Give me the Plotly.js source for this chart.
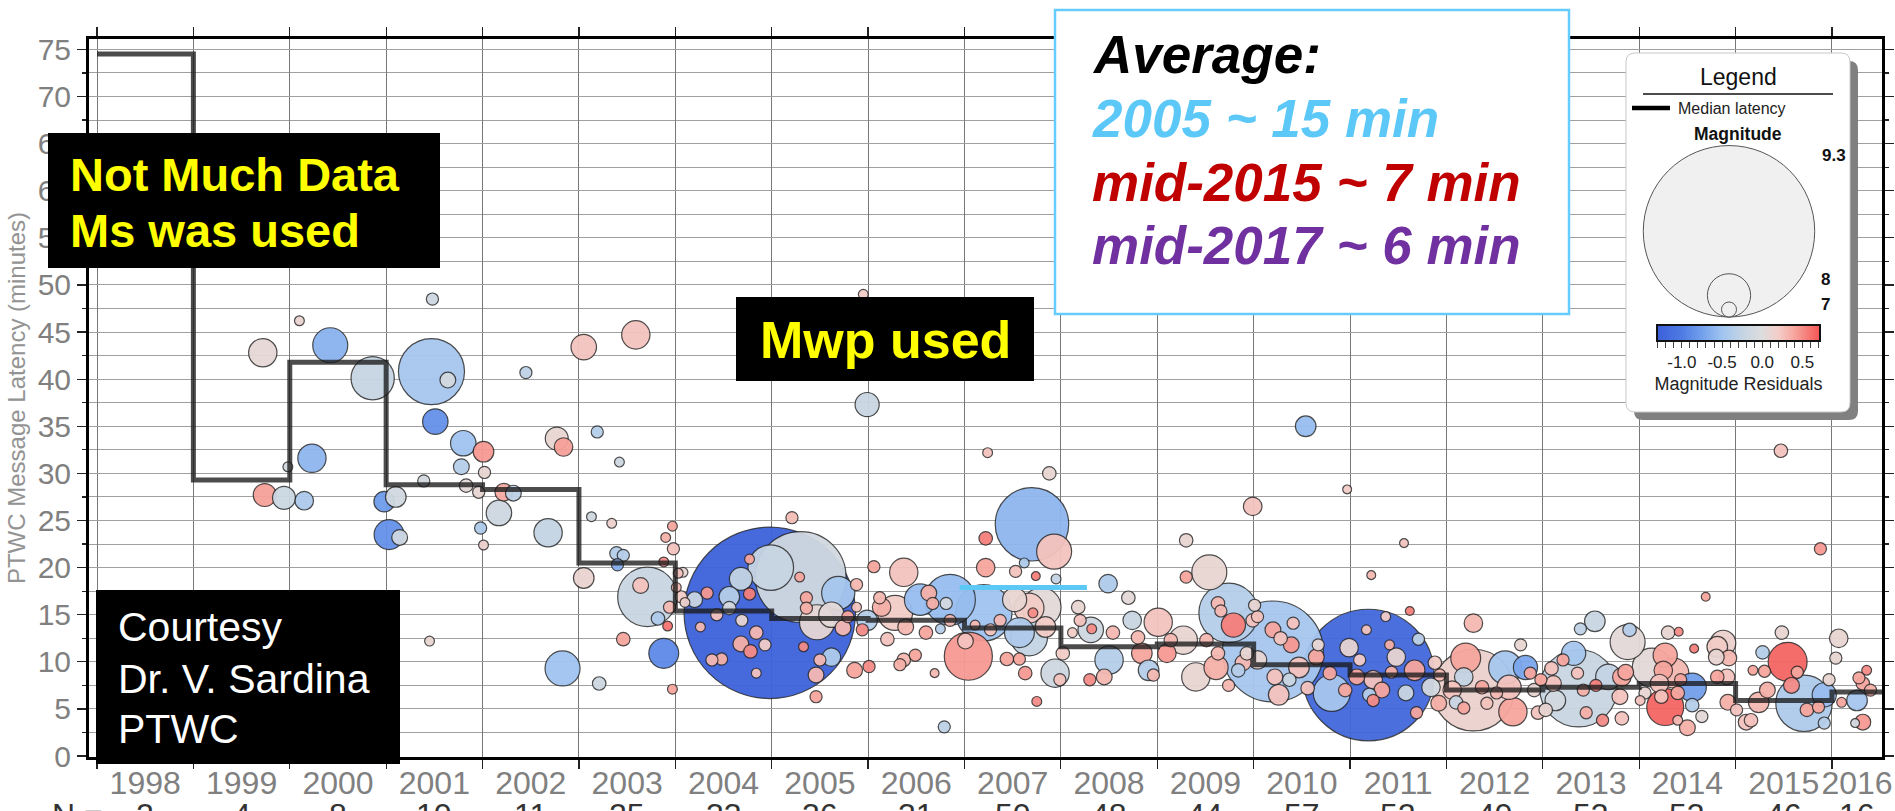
<!DOCTYPE html>
<html><head><meta charset="utf-8">
<script src="https://cdn.plot.ly/plotly-3.0.1.min.js"></script>
<style>html,body{margin:0;padding:0;background:#fff;overflow:hidden}#chart{width:1895px;height:811px}</style>
</head><body><div id="chart"></div>
<script>
// ================= DATA =================
const medianYears   = [1998,1999,2000,2001,2002,2003,2004,2005,2006,2007,2008,2009,2010,2011,2012,2013,2014,2015,2016];
const medianLatency = [74.5,29.3,41.8,28.8,28.3,20.5,15.4,14.6,14.4,13.6,11.6,11.9,9.7,8.6,7.0,7.3,7.7,5.9,6.8];
const dataEnd = 2016.52;
const yearLabels   = ['1998','1999','2000','2001','2002','2003','2004','2005','2006','2007','2008','2009','2010','2011','2012','2013','2014','2015','2016'];
const yearLabelPos = [1998.5,1999.5,2000.5,2001.5,2002.5,2003.5,2004.5,2005.5,2006.5,2007.5,2008.5,2009.5,2010.5,2011.5,2012.5,2013.5,2014.5,2015.5,2016.26];
const yearCounts   = ['2','4','8','10','11','25','33','36','31','50','48','44','57','52','49','53','53','46','16'];
const avgMarkX = [2006.95, 2008.27];
const avgMarkY = [17.9, 17.9];
const residTickVals = [-1.3,-1.2,-1.1,-1.0,-0.9,-0.8,-0.7,-0.6,-0.5,-0.4,-0.3,-0.2,-0.1,0.0,0.1,0.2,0.3,0.4,0.5,0.6,0.7];
const residTickText = ['','','','-1.0','','','','','-0.5','','','','','0.0','','','','','0.5','',''];
const legendMags = [9.3, 8, 7];

// events: [decimal year, latency (min), magnitude, magnitude residual]
const ev1998 = [[1998.30,86.0,7.0,0.00],[1998.62,63.0,7.1,-0.20]];
const ev1999 = [[1999.72,42.8,7.6,0.08],[1999.74,27.7,7.4,0.42],[1999.94,27.4,7.4,-0.18],[1999.98,30.7,6.6,-0.12]];
const ev2000 = [[2000.10,46.2,6.6,0.12],[2000.42,43.6,7.8,-0.62],[2000.86,40.1,8.0,-0.22],[2000.15,27.1,7.2,-0.42],[2000.23,31.6,7.6,-0.60],[2000.98,27.0,7.3,-0.78],[2000.55,56.0,7.0,-0.10],[2000.70,61.0,7.1,0.10]];
const ev2001 = [[2001.10,27.5,7.3,-0.12],[2001.03,23.5,7.65,-0.85],[2001.14,23.2,7.05,-0.15],[2001.39,29.2,6.8,-0.10],[2001.45,12.2,6.6,0.10],[2001.51,35.5,7.5,-0.85],[2001.47,40.8,8.4,-0.45],[2001.64,39.9,7.05,-0.10],[2001.48,48.5,6.8,-0.15],[2001.80,33.2,7.5,-0.50],[2001.78,30.7,7.05,-0.35],[2001.83,28.7,6.9,0.05],[2001.96,28.0,6.8,0.10],[2001.98,24.2,6.8,-0.40]];
const ev2002 = [[2002.02,30.1,6.8,0.10],[2002.01,32.3,7.3,0.45],[2002.01,22.4,6.6,0.15],[2002.22,28.0,7.15,0.38],[2002.32,27.9,7.05,-0.30],[2002.17,25.8,7.5,-0.15],[2002.68,23.7,7.6,-0.25],[2002.77,33.7,7.4,0.10],[2002.84,32.8,7.2,0.42],[2002.83,9.3,7.8,-0.50],[2002.45,40.7,6.8,-0.30]];
const ev2003 = [[2003.05,43.4,7.5,0.25],[2003.59,44.7,7.6,0.25],[2003.19,34.4,6.8,-0.35],[2003.42,31.2,6.6,-0.15],[2003.13,25.4,6.6,-0.15],[2003.34,24.7,6.6,0.15],[2003.39,21.5,6.9,-0.35],[2003.46,21.3,6.8,-0.35],[2003.40,20.3,6.8,-0.65],[2003.05,18.9,7.3,0.12],[2003.21,7.7,6.9,-0.15],[2003.71,16.9,8.3,-0.20],[2003.64,18.1,7.05,0.25],[2003.46,12.4,6.9,0.40],[2003.88,10.9,7.65,-0.90],[2003.82,14.6,6.9,-0.40],[2003.92,13.8,6.6,0.60],[2003.97,24.4,6.6,0.40],[2003.90,23.2,6.6,0.35],[2003.98,22.0,6.8,0.25],[2003.88,20.6,6.6,0.50],[2003.97,7.1,6.6,0.40],[2003.94,15.8,6.8,0.30]];
const ev2004 = [[2004.98,15.2,9.3,-1.28],[2004.99,20.0,8.05,-0.22],[2004.68,18.8,7.4,-0.25],[2004.56,16.9,7.3,-0.35],[2004.77,20.9,6.6,0.40],[2004.33,17.3,6.8,0.45],[2004.77,17.2,6.8,0.55],[2004.43,15.0,6.8,0.25],[2004.56,15.7,6.9,-0.10],[2004.69,14.4,6.8,0.10],[2004.68,11.9,7.05,0.35],[2004.78,11.1,6.9,0.50],[2004.84,13.1,6.9,0.30],[2004.93,11.8,6.8,0.20],[2004.48,10.3,6.8,0.35],[2004.84,8.8,6.6,0.25],[2004.08,19.5,6.6,0.10],[2004.01,17.9,6.6,0.30],[2004.06,16.9,6.8,0.20],[2004.10,16.3,6.6,0.15],[2004.20,16.6,7.05,-0.20],[2004.03,19.4,6.6,0.25],[2004.26,13.7,6.6,0.30],[2004.38,10.2,6.8,0.30]];
const ev2005 = [[2005.30,19.0,8.7,-0.12],[2005.69,17.3,7.75,-0.45],[2005.36,16.8,6.8,0.40],[2005.36,15.7,6.8,0.35],[2005.29,19.0,6.6,0.40],[2005.21,25.3,6.8,0.28],[2005.33,11.6,6.6,0.50],[2005.47,14.2,7.8,0.08],[2005.62,15.0,7.5,0.05],[2005.74,13.6,7.05,0.30],[2005.79,14.8,6.8,0.40],[2005.62,10.5,7.2,-0.40],[2005.50,10.2,6.8,0.30],[2005.46,8.6,7.05,0.30],[2005.46,6.3,6.8,0.40],[2005.88,18.2,6.8,0.30],[2005.88,15.8,6.6,0.25],[2005.86,9.1,7.05,0.40],[2005.94,13.4,6.8,0.50],[2005.95,49.0,6.6,0.20],[2005.99,37.3,7.45,-0.20],[2005.99,14.4,7.3,-0.35]];
const ev2006 = [[2006.01,9.5,6.8,0.50],[2006.06,20.1,6.8,0.40],[2006.37,19.5,7.6,0.25],[2006.14,15.8,7.2,0.35],[2006.28,15.2,7.8,0.20],[2006.20,12.4,6.9,0.25],[2006.39,13.7,7.05,0.30],[2006.54,16.6,7.7,-0.55],[2006.63,17.3,7.05,0.35],[2006.67,16.2,6.8,0.35],[2006.60,13.1,6.9,0.40],[2006.85,16.6,8.15,-0.55],[2006.81,16.2,6.8,-0.10],[2006.75,13.5,6.6,-0.35],[2006.85,14.4,6.8,0.30],[2006.79,3.1,6.8,-0.30],[2006.69,8.8,6.5,0.30],[2006.37,10.2,6.9,0.30],[2006.33,9.7,6.8,0.35],[2006.12,16.8,6.8,0.30],[2006.49,10.7,6.8,0.40]];
const ev2007 = [[2007.04,10.6,8.1,0.45],[2007.24,32.2,6.6,0.25],[2007.70,24.6,8.5,-0.60],[2007.93,21.7,7.8,0.25],[2007.88,30.0,6.9,0.10],[2007.22,23.1,6.9,0.55],[2007.22,20.0,7.2,0.40],[2007.62,20.5,6.6,-0.40],[2007.53,19.6,6.8,0.25],[2007.74,19.1,6.5,0.55],[2007.95,18.8,6.6,-0.25],[2007.20,15.2,8.25,-0.50],[2007.52,16.6,7.45,0.10],[2007.67,15.7,7.65,0.20],[2007.80,15.8,7.9,0.05],[2007.67,12.6,7.85,-0.25],[2007.57,13.1,7.65,-0.40],[2007.84,13.7,7.3,0.20],[2007.71,15.2,6.6,0.50],[2007.44,10.3,6.9,0.40],[2007.57,10.3,6.8,0.40],[2007.63,8.8,6.9,0.45],[2007.75,5.8,6.6,0.50],[2007.94,8.8,7.6,-0.15],[2007.99,8.1,6.8,0.25],[2007.37,14.4,6.8,0.30],[2007.27,13.4,6.8,0.25],[2007.11,13.9,6.6,0.30],[2007.01,12.2,7.05,0.25]];
const ev2008 = [[2008.02,10.9,6.9,0.20],[2008.12,13.1,6.6,0.20],[2008.18,15.8,6.9,0.10],[2008.20,14.4,6.8,0.25],[2008.31,13.4,7.5,-0.15],[2008.32,13.5,6.6,0.50],[2008.30,8.1,6.8,0.50],[2008.49,18.3,7.2,-0.40],[2008.70,16.8,6.9,0.05],[2008.45,8.4,7.05,0.30],[2008.50,10.2,7.6,-0.35],[2008.54,13.1,6.9,0.30],[2008.74,14.4,7.2,-0.20],[2008.80,12.6,6.9,0.30],[2008.84,10.9,7.3,0.40],[2008.91,9.1,7.3,-0.35],[2008.96,8.6,6.8,0.30]];
const ev2009 = [[2009.01,14.2,7.6,0.25],[2009.10,10.9,7.2,0.45],[2009.14,12.3,6.9,0.30],[2009.27,12.3,7.6,0.10],[2009.30,22.9,6.9,0.10],[2009.30,19.0,6.8,0.40],[2009.54,19.5,7.8,0.10],[2009.99,26.5,7.2,0.25],[2009.74,15.2,8.3,-0.35],[2009.79,13.9,7.45,0.55],[2009.63,16.2,6.9,0.30],[2009.66,15.4,6.8,0.30],[2009.51,12.3,6.9,0.30],[2009.63,10.9,6.9,0.30],[2009.61,9.4,7.45,0.35],[2009.40,8.4,7.6,0.10],[2009.74,7.5,6.8,0.30],[2009.89,9.9,7.05,0.30],[2009.84,9.1,6.9,-0.35],[2009.93,10.9,6.9,0.10],[2009.99,14.4,6.9,0.25]];
const ev2010 = [[2010.20,11.1,8.8,-0.45],[2010.54,35.0,7.3,-0.55],[2010.97,28.3,6.5,0.20],[2010.20,13.4,7.05,0.40],[2010.04,14.8,6.8,0.25],[2010.28,12.5,6.9,0.25],[2010.41,14.1,6.8,0.25],[2010.39,11.8,7.05,0.45],[2010.04,10.2,7.2,0.10],[2010.26,6.5,7.3,0.25],[2010.22,8.4,7.05,0.25],[2010.37,8.1,6.9,-0.20],[2010.47,9.4,7.3,0.25],[2010.56,7.2,6.9,0.25],[2010.65,10.5,7.05,0.40],[2010.79,8.8,6.9,0.40],[2010.67,11.8,6.8,0.10],[2010.81,6.7,7.85,-0.45],[2010.99,11.5,7.2,0.10],[2010.95,7.0,6.9,0.40],[2010.01,16.0,6.8,0.10]];
const ev2011 = [[2011.19,8.6,9.05,-1.20],[2011.22,19.2,6.5,0.30],[2011.56,22.6,6.5,0.25],[2011.62,15.4,6.5,0.55],[2011.17,13.4,6.6,0.25],[2011.37,14.8,6.6,0.20],[2011.41,11.8,6.6,0.35],[2011.71,12.4,6.8,-0.30],[2011.48,10.5,7.2,0.10],[2011.67,9.1,7.3,0.40],[2011.24,8.1,7.2,0.25],[2011.33,7.0,7.05,0.40],[2011.07,8.4,7.05,0.40],[2011.20,6.5,6.9,-0.35],[2011.58,6.7,7.05,-0.20],[2011.69,4.6,6.8,0.40],[2011.84,7.3,7.2,-0.10],[2011.88,9.9,6.9,0.20],[2011.24,5.9,6.8,0.50],[2011.93,8.6,6.8,0.30],[2011.43,8.9,6.8,0.35],[2011.10,10.2,6.8,0.20],[2011.92,5.6,7.05,0.35]];
const ev2012 = [[2012.28,7.0,8.6,0.15],[2012.28,14.1,7.2,0.30],[2012.77,11.8,6.8,0.10],[2012.20,10.4,7.65,0.40],[2012.18,8.4,7.2,-0.25],[2012.61,9.4,7.75,-0.45],[2012.82,9.4,7.45,-0.70],[2012.65,7.3,7.45,0.25],[2012.69,4.7,7.6,0.40],[2012.06,7.0,7.2,0.25],[2012.10,5.7,6.9,-0.20],[2012.18,5.1,6.8,0.40],[2012.37,7.3,6.9,0.40],[2012.42,5.6,6.8,0.25],[2012.52,6.7,6.8,0.30],[2012.91,7.0,6.9,0.10],[2012.95,4.6,6.9,0.25],[2012.87,8.8,6.8,0.40],[2012.98,8.1,6.8,0.40]];
const ev2013 = [[2013.37,7.2,8.55,-0.20],[2013.54,14.3,7.3,-0.20],[2013.39,13.5,6.8,-0.30],[2013.88,12.1,7.8,0.05],[2013.90,13.4,6.9,-0.35],[2013.32,10.9,7.45,-0.45],[2013.68,8.4,7.5,-0.25],[2013.82,8.4,7.2,0.40],[2013.86,8.9,7.05,0.40],[2013.80,6.3,7.05,0.25],[2013.82,4.0,6.9,0.25],[2013.62,3.8,6.8,0.50],[2013.45,4.6,6.8,0.35],[2013.13,5.9,7.3,-0.10],[2013.11,7.7,7.05,0.25],[2013.21,10.2,6.8,0.40],[2013.09,9.3,6.9,0.25],[2013.55,7.5,6.8,0.55],[2013.42,7.0,6.8,0.35],[2013.36,8.8,6.8,0.25],[2013.03,4.9,6.9,0.10]];
const ev2014 = [[2014.27,5.2,7.85,0.65],[2014.36,8.8,7.65,0.30],[2014.27,10.7,7.45,0.40],[2014.25,9.1,7.2,0.40],[2014.21,7.7,7.2,0.25],[2014.13,9.4,7.9,0.05],[2014.55,7.3,7.6,-0.75],[2014.55,5.4,6.9,-0.35],[2014.50,3.0,7.05,0.35],[2014.65,4.2,6.8,0.05],[2014.40,3.8,6.6,0.30],[2014.81,8.4,6.9,0.40],[2014.91,8.4,7.05,0.25],[2014.93,10.4,7.05,0.30],[2014.87,12.0,7.5,0.15],[2014.43,8.1,6.8,0.40],[2014.40,6.7,6.9,0.40],[2014.23,6.3,6.9,0.25],[2014.06,6.7,6.8,0.10],[2014.01,5.9,6.6,0.25],[2014.30,13.1,6.9,0.10],[2014.41,13.2,6.5,0.50],[2014.57,11.4,6.5,0.55],[2014.81,11.6,7.3,0.20],[2014.80,10.5,7.05,0.10],[2014.69,16.9,6.5,0.40],[2014.92,5.7,7.05,0.35]];
const ev2015 = [[2015.47,32.4,6.9,0.25],[2015.88,22.0,6.8,0.45],[2015.28,11.0,6.9,-0.35],[2015.48,13.1,6.9,0.10],[2015.54,10.0,7.9,0.65],[2015.71,5.6,8.25,-0.40],[2015.92,6.5,7.45,-0.55],[2015.58,7.5,7.05,0.50],[2015.64,8.9,6.8,0.40],[2015.30,9.0,6.8,0.40],[2015.18,9.1,6.6,0.40],[2015.33,7.0,7.05,0.35],[2015.24,5.7,7.3,0.30],[2015.11,3.6,7.05,0.25],[2015.16,3.8,6.9,0.25],[2015.01,4.9,6.8,0.25],[2015.74,4.9,6.9,0.40],[2015.92,3.5,6.8,-0.35],[2015.86,5.2,6.8,0.40],[2015.97,8.1,6.8,0.10]];
const ev2016 = [[2016.07,12.5,7.2,0.10],[2016.04,10.4,6.8,0.10],[2016.28,8.3,6.8,0.40],[2016.32,7.7,6.9,0.40],[2016.26,5.9,7.3,-0.45],[2016.32,3.6,7.05,0.45],[2016.10,5.7,6.6,0.40],[2016.24,3.5,6.5,-0.10],[2016.40,7.0,6.8,0.35],[2016.36,9.1,6.6,0.50]];

// ================= BUILD =================
const FONT = 'Liberation Sans, Arial, Helvetica, sans-serif';
const L = 89, R = 1882, T = 39, B = 757, W = R - L, H = B - T;
const px = x => (x - L) / W;
const py = y => (B - y) / H;
const XR = [1997.917, 2016.519];
const magToDiameter = m => 15 * Math.pow(10, 0.46 * (m - 7));

const events = [].concat(ev1998, ev1999, ev2000, ev2001, ev2002, ev2003, ev2004, ev2005, ev2006, ev2007,
  ev2008, ev2009, ev2010, ev2011, ev2012, ev2013, ev2014, ev2015, ev2016)
  .slice().sort((a, b) => b[2] - a[2]);   // large bubbles behind small ones

const colorscale = [
  [0.000, '#3b5fd9'], [0.153, '#4f7be4'], [0.276, '#72a0ec'], [0.399, '#a0c4f0'],
  [0.522, '#c4d4e4'], [0.645, '#dddddd'], [0.744, '#f3cdc8'], [0.842, '#f6a69e'], [1.000, '#f45454']
];

const bubbles = {
  type: 'scatter', mode: 'markers', xaxis: 'x', yaxis: 'y',
  x: events.map(e => e[0]), y: events.map(e => e[1]),
  hoverinfo: 'skip', showlegend: false,
  marker: {
    size: events.map(e => magToDiameter(e[2])), sizemode: 'diameter',
    color: events.map(e => e[3]), colorscale: colorscale, cmin: -1.31, cmax: 0.72,
    opacity: 0.95, line: {color: 'rgba(35,35,35,0.85)', width: 1.2},
    showscale: true,
    colorbar: {
      orientation: 'h', x: px(1738.5), xanchor: 'center', y: py(325), yanchor: 'top',
      lenmode: 'pixels', len: 163, thicknessmode: 'pixels', thickness: 16,
      xpad: 0, ypad: 0, outlinewidth: 2, outlinecolor: '#111', borderwidth: 0,
      tickmode: 'array', tickvals: residTickVals, ticktext: residTickText,
      ticks: 'outside', ticklen: 6, tickcolor: '#444', tickwidth: 1,
      tickfont: {family: FONT, size: 17, color: '#222'},
      title: {text: 'Magnitude Residuals', side: 'bottom', font: {family: FONT, size: 18, color: '#222'}}
    }
  }
};

const median = {
  type: 'scatter', mode: 'lines', xaxis: 'x2', yaxis: 'y', hoverinfo: 'skip', showlegend: false,
  x: medianYears.concat([dataEnd]), y: medianLatency.concat([medianLatency[medianLatency.length - 1]]),
  line: {shape: 'hv', width: 5, color: 'rgba(25,25,25,0.78)'}
};
const avgMark = {
  type: 'scatter', mode: 'lines', xaxis: 'x2', yaxis: 'y', hoverinfo: 'skip', showlegend: false,
  x: avgMarkX, y: avgMarkY, line: {width: 5, color: '#5cc8f6'}
};

function rrect(x0, y0, x1, y1, r) {
  const P = (x, y) => px(x).toFixed(5) + ',' + py(y).toFixed(5);
  return 'M' + P(x0 + r, y0) + ' L' + P(x1 - r, y0) + ' Q' + P(x1, y0) + ' ' + P(x1, y0 + r) +
    ' L' + P(x1, y1 - r) + ' Q' + P(x1, y1) + ' ' + P(x1 - r, y1) + ' L' + P(x0 + r, y1) +
    ' Q' + P(x0, y1) + ' ' + P(x0, y1 - r) + ' L' + P(x0, y0 + r) + ' Q' + P(x0, y0) + ' ' + P(x0 + r, y0) + ' Z';
}
const rect = (x0, y0, x1, y1, fill, line) => ({type: 'rect', xref: 'paper', yref: 'paper', layer: 'above',
  x0: px(x0), x1: px(x1), y0: py(y1), y1: py(y0), fillcolor: fill, line: line || {width: 0}});

const shapes = [
  rect(48, 133, 440, 268, '#000'),
  rect(736, 297, 1034, 381, '#000'),
  rect(96, 590, 400, 764, '#000'),
  rect(1055, 10, 1569, 314, '#fff', {color: '#66ccff', width: 2.5}),
  {type: 'path', xref: 'paper', yref: 'paper', layer: 'above', path: rrect(1634, 61, 1858, 420, 9), fillcolor: '#808080', line: {width: 0}},
  {type: 'path', xref: 'paper', yref: 'paper', layer: 'above', path: rrect(1626, 53, 1850, 412, 9), fillcolor: '#fff', line: {color: '#c8c8c8', width: 1}},
  {type: 'line', xref: 'paper', yref: 'paper', layer: 'above', x0: px(1643), x1: px(1833), y0: py(94), y1: py(94), line: {color: '#111', width: 1.5}},
  {type: 'line', xref: 'paper', yref: 'paper', layer: 'above', x0: px(1632), x1: px(1670), y0: py(108), y1: py(108), line: {color: '#000', width: 4.5}}
];
legendMags.forEach(m => {
  const r = magToDiameter(m) / 2, cx = 1729, bottom = 317;
  shapes.push({type: 'circle', xref: 'paper', yref: 'paper', layer: 'above',
    x0: px(cx - r), x1: px(cx + r), y0: py(bottom), y1: py(bottom - 2 * r),
    fillcolor: '#f0f0f0', line: {color: '#555', width: 1}});
});

function txt(text, x, y, size, color, extra) {
  return Object.assign({xref: 'paper', yref: 'paper', x: px(x), y: py(y), text: text, showarrow: false,
    xanchor: 'left', yanchor: 'middle', font: {family: FONT, size: size, color: color}}, extra || {});
}
const annotations = [
  txt('<b>Not Much Data</b>', 68, 174, 47, '#ffff00'),
  txt('<b>Ms was used</b>', 68, 231, 47, '#ffff00'),
  txt('<b>Mwp used</b>', 885, 340, 52, '#ffff00', {xanchor: 'center'}),
  txt('Courtesy', 116, 627, 41, '#fff'),
  txt('Dr. V. Sardina', 116, 679, 41, '#fff'),
  txt('PTWC', 116, 729, 41, '#fff'),
  txt('<b><i>Average:</i></b>', 1090, 54, 53, '#000'),
  txt('<b><i>2005 ~ 15 min</i></b>', 1090, 119, 53, '#5cc8f8'),
  txt('<b><i>mid-2015 ~ 7 min</i></b>', 1090, 182, 53, '#c00000'),
  txt('<b><i>mid-2017 ~ 6 min</i></b>', 1090, 245, 53, '#7030a0'),
  txt('Legend', 1738, 77, 23, '#111', {xanchor: 'center'}),
  txt('Median latency', 1676, 108, 16, '#222'),
  txt('<b>Magnitude</b>', 1738, 134, 17.5, '#111', {xanchor: 'center'}),
  txt('<b>' + legendMags[0].toFixed(1) + '</b>', 1834, 155, 17, '#111', {xanchor: 'center'}),
  txt('<b>' + legendMags[1] + '</b>', 1825, 279, 17, '#111', {xanchor: 'center'}),
  txt('<b>' + legendMags[2] + '</b>', 1825, 305, 17, '#111', {xanchor: 'center'}),
  txt('N =', 50, 815, 32, '#333')
];
yearCounts.forEach((n, i) => annotations.push({xref: 'x', yref: 'paper', x: yearLabelPos[i], y: py(815),
  text: n, showarrow: false, xanchor: 'center', yanchor: 'middle', font: {family: FONT, size: 32, color: '#333'}}));

const layout = {
  width: 1895, height: 811, paper_bgcolor: '#fff', plot_bgcolor: '#fff', showlegend: false,
  margin: {l: L, r: 1895 - R, t: T, b: 811 - B, autoexpand: false},
  xaxis: {
    range: XR, tickmode: 'array', tickvals: medianYears, showticklabels: false,
    ticks: 'outside', ticklen: 9, tickwidth: 1.2, tickcolor: '#222',
    showgrid: true, gridcolor: '#777', gridwidth: 1, zeroline: false,
    showline: true, linewidth: 3, linecolor: '#000', mirror: 'ticks'
  },
  xaxis2: {
    overlaying: 'x', anchor: 'y', side: 'bottom', range: XR,
    tickmode: 'array', tickvals: yearLabelPos, ticktext: yearLabels, ticks: '',
    showgrid: false, zeroline: false, showline: false, ticklabelstandoff: 4,
    tickfont: {family: FONT, size: 32, color: '#808080'}
  },
  yaxis: {
    range: [-0.1, 76.1], tick0: 0, dtick: 5,
    ticks: 'outside', ticklen: 9, tickwidth: 1.2, tickcolor: '#222',
    tickfont: {family: FONT, size: 30, color: '#808080'},
    showgrid: true, gridcolor: '#a0a0a0', gridwidth: 1, zeroline: false,
    minor: {dtick: 2.5, ticks: 'outside', ticklen: 4, tickcolor: '#222', showgrid: true, gridcolor: '#a0a0a0', gridwidth: 1},
    showline: true, linewidth: 3, linecolor: '#000', mirror: 'ticks',
    title: {text: 'PTWC Message Latency (minutes)', standoff: 6, font: {family: FONT, size: 24, color: '#939393'}}
  },
  shapes: shapes,
  annotations: annotations
};

Plotly.newPlot('chart', [bubbles, median, avgMark], layout, {displayModeBar: false, staticPlot: true});
</script>
</body></html>
